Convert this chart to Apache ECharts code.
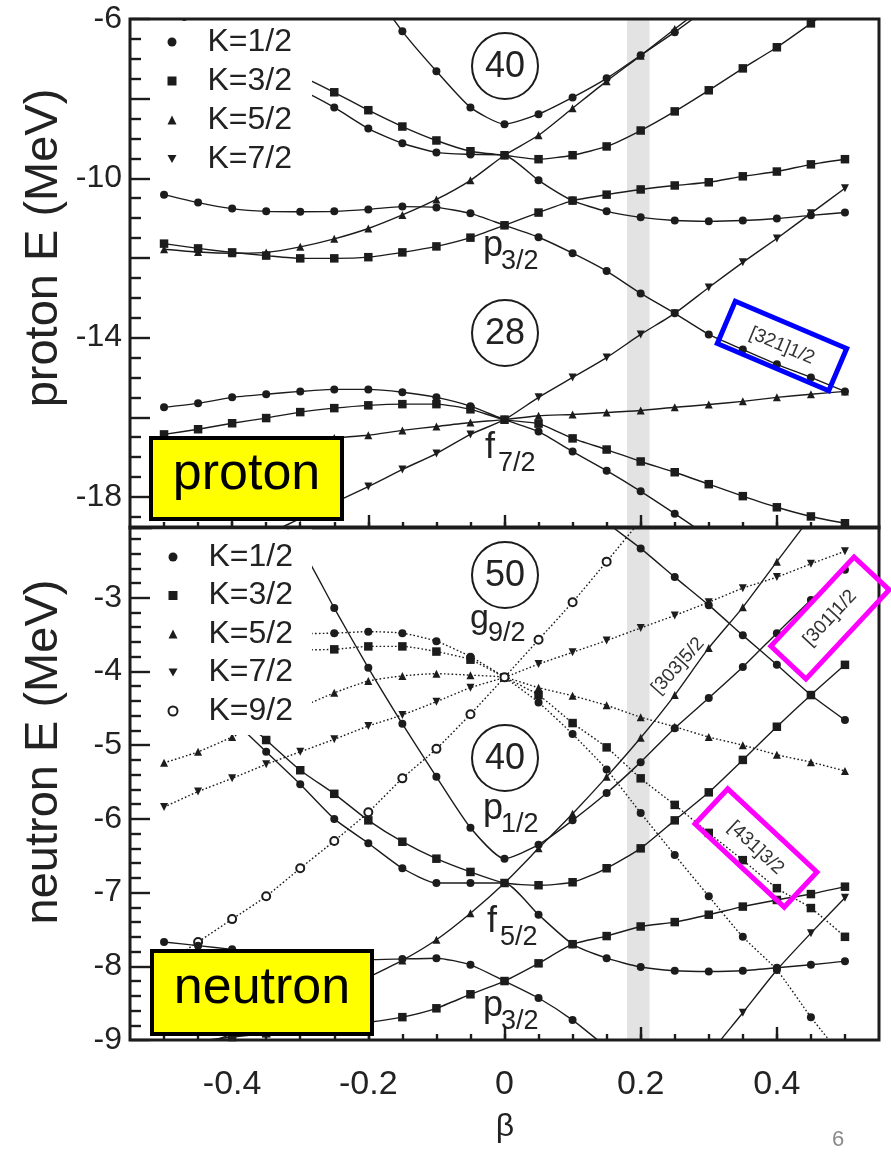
<!DOCTYPE html>
<html><head><meta charset="utf-8">
<script src="https://cdn.jsdelivr.net/npm/echarts@6/dist/echarts.min.js"></script>
<style>html,body{margin:0;padding:0;background:#fff}#c{width:891px;height:1166px}</style>
</head><body><div id="c"></div>
<script>
// ---------- data ----------
const betas = [-0.5,-0.45,-0.4,-0.35,-0.3,-0.25,-0.2,-0.15,-0.1,-0.05,0,0.05,0.1,0.15,0.2,0.25,0.3,0.35,0.4,0.45,0.5];
const xMajorTicks = [-0.4,-0.2,0,0.2,0.4];
const xMinorTicks = [-0.5,-0.45,-0.4,-0.35,-0.3,-0.25,-0.2,-0.15,-0.1,-0.05,0,0.05,0.1,0.15,0.2,0.25,0.3,0.35,0.4,0.45,0.5];
const pYMajorTicks = [-6,-8,-10,-12,-14,-16,-18];
const pYLabels = [-6,-10,-14,-18];
const pYMinorTicks = [-6.5,-7,-7.5,-8.5,-9,-9.5,-10.5,-11,-11.5,-12.5,-13,-13.5,-14.5,-15,-15.5,-16.5,-17,-17.5,-18.5];
const nYMajorTicks = [-3,-4,-5,-6,-7,-8,-9];
const nYLabels = [-3,-4,-5,-6,-7,-8,-9];
const nYMinorTicks = [-2.2,-2.4,-2.6,-2.8,-3.2,-3.4,-3.6,-3.8,-4.2,-4.4,-4.6,-4.8,-5.2,-5.4,-5.6,-5.8,-6.2,-6.4,-6.6,-6.8,-7.2,-7.4,-7.6,-7.8,-8.2,-8.4,-8.6,-8.8];

// proton levels (MeV) at each beta
const pP12K12 = [null,null,null,null,null,null,-5.10,-6.31,-7.31,-8.22,-8.64,-8.39,-7.97,-7.49,-6.91,-6.33,-5.70,null,null,null,null];
const pF52K32 = [-5.80,-6.20,-6.60,-7.00,-7.42,-7.84,-8.29,-8.70,-9.05,-9.32,-9.42,-9.52,-9.42,-9.20,-8.80,-8.32,-7.79,-7.24,-6.71,-6.11,-5.50];
const pF52K12 = [-6.50,-6.85,-7.20,-7.50,-7.78,-8.22,-8.75,-9.12,-9.35,-9.40,-9.42,-10.05,-10.56,-10.83,-10.98,-11.06,-11.08,-11.06,-11.01,-10.93,-10.86];
const pF52K52 = [-11.78,-11.85,-11.88,-11.86,-11.72,-11.52,-11.26,-10.92,-10.53,-10.05,-9.42,-8.92,-8.24,-7.56,-6.92,-6.25,-5.60,null,null,null,null];
const pP32K32 = [-11.64,-11.76,-11.86,-11.94,-12.01,-12.01,-11.98,-11.86,-11.71,-11.49,-11.18,-10.86,-10.56,-10.41,-10.28,-10.18,-10.10,-9.95,-9.83,-9.65,-9.52];
const pP32K12 = [-10.41,-10.61,-10.76,-10.83,-10.84,-10.83,-10.78,-10.71,-10.73,-10.88,-11.18,-11.48,-11.88,-12.33,-12.89,-13.39,-13.92,-14.30,-14.67,-15.00,-15.35];
const pF72K12 = [-15.75,-15.65,-15.50,-15.42,-15.35,-15.30,-15.30,-15.37,-15.50,-15.72,-16.06,-16.36,-16.86,-17.34,-17.86,-18.42,-19.00,null,null,null,null];
const pF72K32 = [-16.43,-16.30,-16.15,-16.02,-15.87,-15.77,-15.70,-15.67,-15.67,-15.80,-16.06,-16.16,-16.53,-16.81,-17.11,-17.38,-17.68,-17.98,-18.26,-18.49,-18.66];
const pF72K52 = [-16.93,-16.85,-16.78,-16.70,-16.62,-16.52,-16.45,-16.33,-16.23,-16.13,-16.06,-15.96,-15.93,-15.88,-15.83,-15.75,-15.68,-15.60,-15.50,-15.42,-15.35];
const pF72K72 = [null,null,-19.30,-18.95,-18.54,-18.14,-17.74,-17.31,-16.91,-16.43,-16.06,-15.50,-15.00,-14.50,-13.92,-13.39,-12.74,-12.11,-11.51,-10.88,-10.25];

// neutron levels (MeV)
const nG92K12 = [-3.70,-3.62,-3.56,-3.52,-3.49,-3.48,-3.46,-3.48,-3.59,-3.80,-4.08,-4.42,-4.85,-5.33,-5.92,-6.49,-7.05,-7.60,-8.05,-8.69,-9.27];
const nG92K32 = [-3.90,-3.83,-3.78,-3.74,-3.71,-3.70,-3.66,-3.66,-3.73,-3.84,-4.08,-4.32,-4.70,-5.03,-5.45,-5.81,-6.19,-6.56,-6.94,-7.21,-7.60];
const nG92K52 = [-5.24,-5.09,-4.89,-4.69,-4.49,-4.29,-4.13,-4.06,-4.03,-4.05,-4.08,-4.22,-4.33,-4.46,-4.62,-4.75,-4.89,-5.00,-5.13,-5.23,-5.35];
const nG92K72 = [-5.84,-5.63,-5.45,-5.26,-5.09,-4.92,-4.74,-4.59,-4.41,-4.22,-4.08,-3.90,-3.74,-3.58,-3.41,-3.24,-3.06,-2.87,-2.72,-2.54,-2.37];
const nG92K92 = [-7.98,-7.67,-7.36,-7.05,-6.67,-6.30,-5.91,-5.45,-5.05,-4.58,-4.08,-3.57,-3.06,-2.51,-1.95,null,null,null,null,null,null];
const nP12K12 = [null,null,null,-1.70,-2.30,-3.14,-3.95,-4.71,-5.43,-6.12,-6.54,-6.35,-6.02,-5.65,-5.23,-4.77,-4.36,-3.94,-3.48,-3.03,-2.62];
const nF52K12 = [-3.60,-4.20,-4.65,-5.09,-5.53,-6.00,-6.33,-6.67,-6.87,-6.87,-6.87,-7.30,-7.70,-7.89,-8.01,-8.06,-8.07,-8.06,-8.02,-7.98,-7.93];
const nF52K32 = [-3.60,-4.10,-4.52,-4.93,-5.34,-5.66,-6.02,-6.31,-6.54,-6.72,-6.87,-6.90,-6.86,-6.67,-6.40,-6.02,-5.64,-5.20,-4.75,-4.32,-3.91];
const nF52K52 = [-9.20,-9.08,-8.92,-8.75,-8.57,-8.37,-8.15,-7.92,-7.64,-7.28,-6.87,-6.40,-5.93,-5.43,-4.90,-4.32,-3.68,-3.13,-2.51,-1.90,null];
const nP32K12 = [-7.67,-7.72,-7.77,-7.82,-7.86,-7.89,-7.91,-7.90,-7.89,-7.98,-8.20,-8.43,-8.73,-9.10,null,null,null,null,null,null,null];
const nP32K32 = [-9.10,-9.02,-8.96,-8.91,-8.86,-8.81,-8.76,-8.69,-8.57,-8.38,-8.20,-7.96,-7.70,-7.59,-7.46,-7.40,-7.30,-7.19,-7.10,-7.02,-6.92];
const nF72K72 = [null,null,null,null,null,null,null,null,null,null,null,null,null,null,null,-9.80,-9.20,-8.63,-8.05,-7.55,-7.07];
const nD52K12 = [null,null,null,null,null,null,null,null,null,null,null,null,-1.60,-1.98,-2.33,-2.72,-3.10,-3.51,-3.91,-4.32,-4.66];

const bandBeta = [0.18, 0.213];

// ---------- chart ----------
const INK = '#1c1c1c';
const FONT = '"Liberation Sans", Arial, Helvetica, sans-serif';
const SYM = {
  'K=1/2': {symbol:'circle', size:8, rotate:0},
  'K=3/2': {symbol:'rect', size:8.5, rotate:0},
  'K=5/2': {symbol:'triangle', size:8, rotate:0},
  'K=7/2': {symbol:'triangle', size:8, rotate:180},
  'K=9/2': {symbol:'emptyCircle', size:8, rotate:0}
};
function curve(name, vals, panel, dotted) {
  const s = SYM[name];
  return {
    type:'line', name: name, xAxisIndex: panel*2, yAxisIndex: panel*2,
    data: betas.map((b,i) => [b, vals[i]]),
    symbol: s.symbol, symbolSize: s.size, symbolRotate: s.rotate, showAllSymbol: true,
    smooth: 0.2, clip: true, z: 3, silent: true,
    lineStyle: {color: INK, width: 1.4, type: dotted ? [1.6, 2.2] : 'solid'},
    itemStyle: {color: INK, borderWidth: name === 'K=9/2' ? 1.4 : 0},
    emphasis: {disabled: true}
  };
}
function band(panel) {
  return {type:'line', name:'band', xAxisIndex: panel*2, yAxisIndex: panel*2, z:1, silent:true,
    data:[[0, null]], symbol:'none',
    markArea:{silent:true, itemStyle:{color:'#e3e3e3'}, data:[[{xAxis: bandBeta[0]},{xAxis: bandBeta[1]}]]}};
}
const series = [
  band(0), band(1),
  curve('K=1/2', pP12K12, 0), curve('K=3/2', pF52K32, 0), curve('K=1/2', pF52K12, 0), curve('K=5/2', pF52K52, 0),
  curve('K=3/2', pP32K32, 0), curve('K=1/2', pP32K12, 0), curve('K=1/2', pF72K12, 0), curve('K=3/2', pF72K32, 0),
  curve('K=5/2', pF72K52, 0), curve('K=7/2', pF72K72, 0),
  curve('K=1/2', nG92K12, 1, true), curve('K=3/2', nG92K32, 1, true), curve('K=5/2', nG92K52, 1, true),
  curve('K=7/2', nG92K72, 1, true), curve('K=9/2', nG92K92, 1, true),
  curve('K=1/2', nP12K12, 1), curve('K=1/2', nF52K12, 1), curve('K=3/2', nF52K32, 1), curve('K=5/2', nF52K52, 1),
  curve('K=1/2', nP32K12, 1), curve('K=3/2', nP32K32, 1), curve('K=7/2', nF72K72, 1), curve('K=1/2', nD52K12, 1)
];

function xAx(grid, major, labels) {
  return {gridIndex: grid, type:'value', position:'bottom', min:-0.55, max:0.55, z:5,
    axisLine:{show:false, onZero:false}, splitLine:{show:false},
    axisTick:{show:true, inside:true, length: major ? 13 : 6, customValues: major ? xMajorTicks : xMinorTicks,
      lineStyle:{color: INK, width: 2.4}},
    axisLabel: labels ? {show:true, customValues: xMajorTicks, fontSize:34, margin:28, color:'#222', fontFamily: FONT}
                      : {show:false}};
}
function yAx(grid, min, max, ticks, len, labels) {
  return {gridIndex: grid, type:'value', position:'left', min: min, max: max, z:5,
    axisLine:{show:false, onZero:false}, splitLine:{show:false},
    axisTick:{show:true, inside:true, length: len, customValues: ticks, lineStyle:{color: INK, width: 2.4}},
    axisLabel: labels ? {show:true, customValues: labels, fontSize:32, margin:8, color:'#222', fontFamily: FONT}
                      : {show:false}};
}

const legendText = {fontSize:32, fontFamily: FONT, color:'#222', padding:[0,0,0,26], lineHeight:32};
const option = {
  animation:false,
  backgroundColor:'#fff',
  grid:[
    {left:130, top:19, width:749, height:509, show:true, borderColor: INK, borderWidth:3, backgroundColor:'transparent', z:6},
    {left:130, top:527, width:749, height:513, show:true, borderColor: INK, borderWidth:3, backgroundColor:'transparent', z:6}
  ],
  xAxis:[ xAx(0,true,false), xAx(0,false,false), xAx(1,true,true), xAx(1,false,false) ],
  yAxis:[
    yAx(0, -18.78, -6, pYMajorTicks, 20, pYLabels), yAx(0, -18.78, -6, pYMinorTicks, 11, null),
    yAx(1, -9, -2.04, nYMajorTicks, 20, nYLabels), yAx(1, -9, -2.04, nYMinorTicks, 11, null)
  ],
  legend:[
    {z:60, orient:'vertical', left:167.5, top:26, padding:0, itemGap:7, itemWidth:9, itemHeight:9,
     selectedMode:false, textStyle: legendText,
     data:[{name:'K=1/2', icon:'circle'},{name:'K=3/2', icon:'rect'},{name:'K=5/2', icon:'triangle'},
           {name:'K=7/2', icon:'path://M0,0L10,0L5,9Z'}]},
    {z:60, orient:'vertical', left:167.5, top:541, padding:0, itemGap:6.5, itemWidth:9, itemHeight:9,
     selectedMode:false, textStyle: legendText,
     data:[{name:'K=1/2', icon:'circle'},{name:'K=3/2', icon:'rect'},{name:'K=5/2', icon:'triangle'},
           {name:'K=7/2', icon:'path://M0,0L10,0L5,9Z'},{name:'K=9/2', icon:'emptyCircle'}]}
  ],
  series: series,
  graphic: []
};

const D = Math.PI/180;
function txt(t, x, y, size, opts) {
  return Object.assign({type:'text', z:90, x:x, y:y, silent:true,
    style:{text:t, fontSize:size, fontFamily:FONT, fill:'#222', textAlign:'center', textVerticalAlign:'middle'}}, opts || {});
}
function sub(main, s, x, yBase, mainSize, subSize) {
  return [
    {type:'text', z:90, x:x, y:yBase, silent:true, style:{text:main, fontSize:mainSize, fontFamily:FONT, fill:'#222', textAlign:'left', textVerticalAlign:'bottom'}},
    {type:'text', z:90, x:x + (main === 'f' ? 13 : 18), y:yBase + 11, silent:true, style:{text:s, fontSize:subSize, fontFamily:FONT, fill:'#222', textAlign:'left', textVerticalAlign:'bottom'}}
  ];
}
function rbox(cx, cy, w, h, deg, color, label) {
  return [
    {type:'rect', z:95, x:cx, y:cy, rotation:deg*D, silent:true, shape:{x:-w/2, y:-h/2, width:w, height:h},
     style:{fill:'none', stroke:color, lineWidth:5}},
    {type:'text', z:95, x:cx, y:cy, rotation:deg*D, silent:true,
     style:{text:label, fontSize:19, fontFamily:FONT, fill:'#333', textAlign:'center', textVerticalAlign:'middle'}}
  ];
}
function magic(cx, cy, t) {
  return [
    {type:'circle', z:90, silent:true, shape:{cx:cx, cy:cy, r:33}, style:{fill:'none', stroke:INK, lineWidth:2}},
    txt(t, cx, cy+1, 36)
  ];
}
function ybox(x, y, w, h, t) {
  return [
    {type:'rect', z:85, silent:true, shape:{x:x, y:y, width:w, height:h}, style:{fill:'#ffff00', stroke:'#000', lineWidth:4}},
    {type:'text', z:86, silent:true, x:x + w/2, y:y + h/2 - 4, style:{text:t, fontSize:52, fontFamily:FONT, fill:'#000', textAlign:'center', textVerticalAlign:'middle'}}
  ];
}
option.graphic = [].concat(
  // masks behind the legends
  [{type:'rect', z:50, silent:true, shape:{x:152, y:21, width:160, height:159}, style:{fill:'#fff'}},
   {type:'rect', z:50, silent:true, shape:{x:152, y:529.5, width:160, height:205.5}, style:{fill:'#fff'}}],
  magic(505, 66, '40'), magic(505, 333, '28'), magic(505, 575, '50'), magic(505, 758, '40'),
  sub('p', '3/2', 483, 264, 36, 27), sub('f', '7/2', 485, 466, 36, 27),
  sub('g', '9/2', 470, 636, 34, 27), sub('p', '1/2', 483, 827, 36, 27),
  sub('f', '5/2', 487, 940, 36, 27), sub('p', '3/2', 483, 1024, 36, 27),
  ybox(151, 438, 191, 81, 'proton'), ybox(152, 951, 220, 83, 'neutron'),
  rbox(782, 346, 121, 46, -23, '#0000ff', '[321]1/2'),
  rbox(830, 618, 122, 48, 47, '#ff00ff', '[301]1/2'),
  rbox(756, 848, 122, 48, -43, '#ff00ff', '[431]3/2'),
  [txt('[303]5/2', 678, 666, 19, {rotation:48*D, style:{text:'[303]5/2', fontSize:19, fontFamily:FONT, fill:'#333', textAlign:'center', textVerticalAlign:'middle'}}),
   txt('proton E (MeV)', 44, 248, 47, {rotation:90*D}),
   txt('neutron E (MeV)', 44, 752, 47, {rotation:90*D}),
   txt('β', 505, 1127, 32),
   txt('6', 838, 1140, 22, {style:{text:'6', fontSize:22, fontFamily:FONT, fill:'#8a8a8a', textAlign:'center', textVerticalAlign:'middle'}})]
);

const chart = echarts.init(document.getElementById('c'));
chart.setOption(option);
</script>
</body></html>
